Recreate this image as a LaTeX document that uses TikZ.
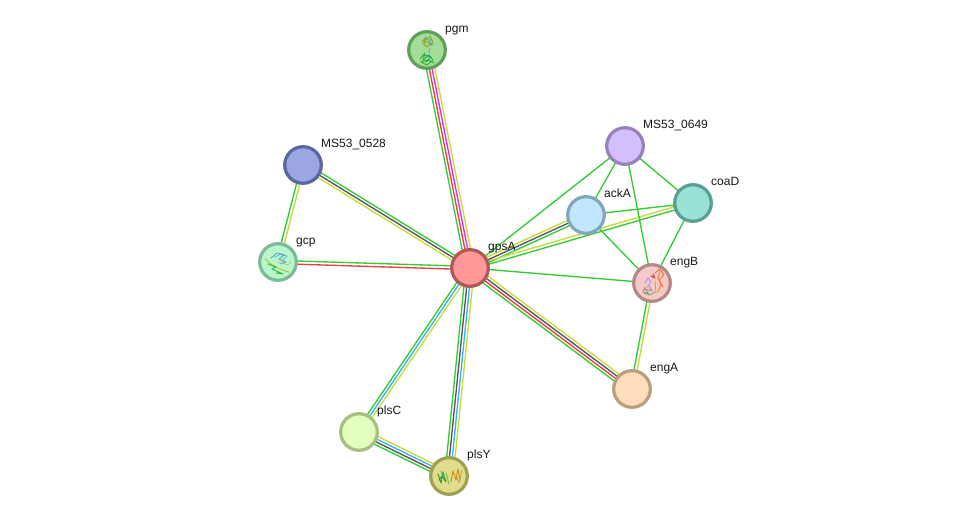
\documentclass[tikz,border=0pt]{standalone}
\usepackage{fontspec}
\setmainfont{Liberation Sans}
\usetikzlibrary{calc,backgrounds}
\definecolor{evgreen}{HTML}{33CC33}
\definecolor{evyellow}{HTML}{C5DC3A}
\definecolor{evdark}{HTML}{555560}
\definecolor{evred}{HTML}{F03C3C}
\definecolor{evmag}{HTML}{DD30DD}
\definecolor{evblue}{HTML}{38B4E8}
\tikzset{
  x=1pt,y=-1pt,
  protein/.style={circle,minimum size=36.6pt,inner sep=0pt,line width=3.2pt},
  plabel/.style={anchor=base west,inner sep=0pt,font=\fontsize{12}{14}\selectfont,text=black!90},
  evline/.style={line width=1.35pt},
  chain/.style={line width=1pt,line cap=round,line join=round,opacity=.7},
}
% one evidence line between two proteins, shifted sideways by #3
\newcommand{\evidence}[4]{%
  \draw[evline,#4] ($(#1)!#3pt!90:(#2)$) -- ($(#2)!#3pt!-90:(#1)$);}
% name, x, y, fill colour, rim colour
\newcommand{\protein}[5]{%
  \definecolor{pfill}{HTML}{#4}\definecolor{prim}{HTML}{#5}%
  \node[protein,draw=prim,fill=pfill] (#1) at (#2,#3) {};}
\begin{document}
\begin{tikzpicture}
\useasboundingbox (0,0) rectangle (975,521);

\protein{gpsA}{470}{268}{FF9999}{B05858}
\protein{pgm}{427}{50}{A3DE98}{5F9F5A}
\protein{ms28}{303}{165}{9CA6E2}{5A669F}
\protein{gcp}{278}{262}{B9F6CC}{7DBB98}
\protein{ms49}{625}{146}{D2BFFC}{9A80BC}
\protein{ackA}{586}{215}{C2E6FF}{82A6BF}
\protein{coaD}{693}{203}{98E2D6}{5A9E95}
\protein{engB}{652}{283}{F6C8C8}{B58888}
\protein{engA}{632}{389}{FFDDBC}{BB9E80}
\protein{plsC}{359}{432}{E2FFBE}{A6BE82}
\protein{plsY}{449}{476}{DEDD8C}{A0A052}

% interaction lines sit under the protein discs
\begin{scope}[on background layer]
  \fill[white] (0,0) rectangle (975,521);
  \evidence{gpsA}{pgm}{4.2}{evgreen}
  \evidence{gpsA}{pgm}{1.4}{evred}
  \evidence{gpsA}{pgm}{-1.4}{evmag}
  \evidence{gpsA}{pgm}{-4.2}{evyellow}
  \evidence{gpsA}{ms28}{-2.8}{evgreen}
  \evidence{gpsA}{ms28}{0}{evdark}
  \evidence{gpsA}{ms28}{2.8}{evyellow}
  \evidence{gcp}{ms28}{1.6}{evgreen}
  \evidence{gcp}{ms28}{-1.6}{evyellow}
  \evidence{gpsA}{gcp}{-1.6}{evgreen}
  \evidence{gpsA}{gcp}{1.6}{evred}
  \evidence{gpsA}{plsC}{-2.8}{evgreen}
  \evidence{gpsA}{plsC}{0}{evblue}
  \evidence{gpsA}{plsC}{2.8}{evyellow}
  \evidence{gpsA}{plsY}{-4.2}{evgreen}
  \evidence{gpsA}{plsY}{-1.4}{evdark}
  \evidence{gpsA}{plsY}{1.4}{evblue}
  \evidence{gpsA}{plsY}{4.2}{evyellow}
  \evidence{plsC}{plsY}{4.2}{evyellow}
  \evidence{plsC}{plsY}{1.4}{evblue}
  \evidence{plsC}{plsY}{-1.4}{evdark}
  \evidence{plsC}{plsY}{-4.2}{evgreen}
  \evidence{gpsA}{engA}{4.2}{evyellow}
  \evidence{gpsA}{engA}{1.4}{evdark}
  \evidence{gpsA}{engA}{-1.4}{evred}
  \evidence{gpsA}{engA}{-4.2}{evgreen}
  \evidence{engB}{engA}{1.6}{evyellow}
  \evidence{engB}{engA}{-1.6}{evgreen}
  \evidence{gpsA}{ackA}{2.8}{evyellow}
  \evidence{gpsA}{ackA}{0}{evdark}
  \evidence{gpsA}{ackA}{-2.8}{evgreen}
  \evidence{gpsA}{coaD}{1.6}{evyellow}
  \evidence{gpsA}{coaD}{-1.6}{evgreen}
  \evidence{gpsA}{ms49}{0}{evgreen}
  \evidence{gpsA}{engB}{0}{evgreen}
  \evidence{ackA}{ms49}{0}{evgreen}
  \evidence{ackA}{coaD}{0}{evgreen}
  \evidence{ackA}{engB}{0}{evgreen}
  \evidence{ms49}{coaD}{0}{evgreen}
  \evidence{ms49}{engB}{0}{evgreen}
  \evidence{coaD}{engB}{0}{evgreen}
\end{scope}

% small ribbon structures inside four of the discs
\begin{scope}[chain]
  \draw[draw=olive!80!green] (422,42) -- (426,37) -- (424,42) -- (430,36) -- (433,42) -- (427,47) -- (423,44) -- (429,41) -- (432,46);
  \draw[draw=teal!70] (426,38) -- (431,40) -- (428,44) -- (434,44);
  \draw[draw=teal!70] (430,48) -- (429,53);
  \draw[draw=green!65!black] (420,59) -- (425,53) -- (423,60) -- (429,55) -- (433,60) -- (427,65) -- (421,62) -- (428,60) -- (434,63);
  \draw[draw=teal] (425,55) -- (431,57) -- (426,62);

  \draw[draw=olive!70!yellow] (265,259) -- (272,265) -- (282,270) -- (289,272);
  \draw[draw=green!65!black] (268,264) -- (276,267) -- (272,269) -- (283,274) -- (276,273);
  \draw[draw=teal!80] (271,258) -- (277,253) -- (284,255) -- (279,259) -- (286,262) -- (280,264);
  \draw[draw=cyan!60!blue!70] (275,257) -- (281,254) -- (287,256) -- (282,261);
  \draw[draw=brown!70] (278,262) -- (288,265) -- (291,262);

  \draw[draw=orange!80!black] (655,273) -- (660,269) -- (664,275) -- (659,280) -- (663,287);
  \draw[draw=orange!90!black] (660,271) -- (658,278) -- (661,284) -- (658,292);
  \draw[draw=red!75!black] (651,276) -- (655,278) -- (653,274);
  \draw[draw=olive!80] (655,281) -- (656,293);
  \draw[draw=blue!45] (645,283) -- (648,278) -- (651,282) -- (647,287);
  \draw[draw=gray] (645,287) -- (643,292) -- (649,294) -- (645,289) -- (652,291) -- (649,286);
  \draw[draw=green!50!black!70] (644,293) -- (650,295) -- (655,292);

  \draw[draw=green!50!black] (438,474) -- (441,483) -- (443,472) -- (446,482) -- (442,476) -- (439,480);
  \draw[draw=teal!70] (441,471) -- (444,479);
  \draw[draw=green!65!black!80] (446,473) -- (449,484);
  \draw[draw=orange!80!black] (451,482) -- (453,471) -- (456,480) -- (458,469) -- (460,480);
  \draw[draw=yellow!70!orange] (450,474) -- (455,477) -- (461,472);
  \draw[draw=brown!90] (462,470) -- (459,483) -- (456,475);
\end{scope}

\node[plabel] (lpgm) at (445,33) {pgm};
\node[plabel] (l28) at (321,148) {MS53\_0528};
\node[plabel] (lgcp) at (296,245) {gcp};
\node[plabel] (lgpsA) at (488,251) {gpsA};
\node[plabel] (l49) at (643,129) {MS53\_0649};
\node[plabel] (lackA) at (604,198) {ackA};
\node[plabel] (lcoaD) at (711,186) {coaD};
\node[plabel] (lengB) at (670,266) {engB};
\node[plabel] (lengA) at (650,371) {engA};
\node[plabel] (lplsC) at (377,414) {plsC};
\node[plabel] (lplsY) at (467,458) {plsY};
\end{tikzpicture}
\end{document}
